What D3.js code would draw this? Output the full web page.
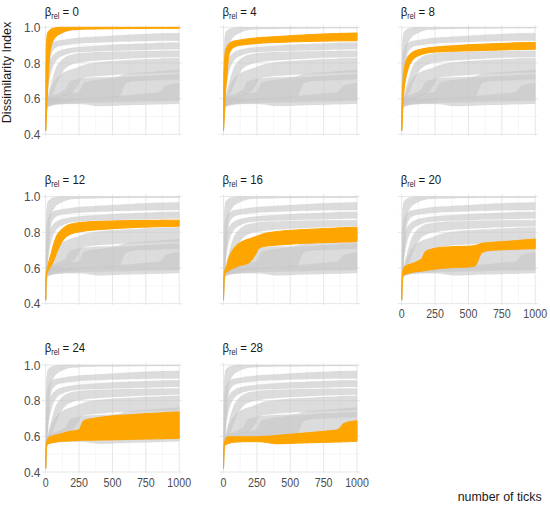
<!DOCTYPE html>
<html>
<head>
<meta charset="utf-8">
<script src="https://cdn.jsdelivr.net/npm/d3@7"></script>
<style>
  html, body { margin: 0; padding: 0; background: #fff; }
  svg { display: block; font-family: "Liberation Sans", Arial, sans-serif; }
</style>
</head>
<body>
<svg id="chart" width="550" height="506"></svg>
<script>
// ---- data ----
const betas = [0, 4, 8, 12, 16, 20, 24, 28];
const ticks = [0, 2, 5, 10, 15, 25, 40, 60, 80, 100, 125, 150, 175, 200, 250, 260, 280, 300, 350, 400, 500, 550, 600, 650, 700, 800, 850, 870, 900, 1000];

const lower0  = [0.42,0.45,0.50,0.58,0.66,0.80,0.89,0.93,0.95,0.96,0.97,0.978,0.983,0.986,0.988,0.989,0.989,0.990,0.990,0.991,0.992,0.992,0.993,0.993,0.993,0.994,0.994,0.994,0.994,0.994];
const upper0  = [0.42,0.75,0.90,0.95,0.97,0.98,0.99,0.995,0.998,1.0,1.0,1.0,1.0,1.0,1.0,1.0,1.0,1.0,1.0,1.0,1.0,1.0,1.0,1.0,1.0,1.0,1.0,1.0,1.0,1.0];
const lower4  = [0.42,0.44,0.48,0.55,0.63,0.72,0.84,0.875,0.888,0.895,0.899,0.902,0.904,0.906,0.909,0.91,0.911,0.912,0.914,0.915,0.918,0.919,0.92,0.921,0.922,0.923,0.924,0.924,0.924,0.925];
const upper4  = [0.42,0.70,0.78,0.84,0.87,0.89,0.908,0.918,0.923,0.926,0.929,0.932,0.935,0.937,0.941,0.942,0.943,0.944,0.946,0.948,0.953,0.955,0.957,0.959,0.961,0.964,0.965,0.966,0.966,0.968];
const lower8  = [0.42,0.44,0.50,0.58,0.63,0.69,0.745,0.79,0.815,0.83,0.84,0.848,0.853,0.857,0.861,0.862,0.862,0.863,0.865,0.866,0.868,0.869,0.870,0.871,0.872,0.874,0.875,0.875,0.876,0.877];
const upper8  = [0.42,0.55,0.62,0.70,0.74,0.79,0.825,0.848,0.86,0.868,0.874,0.878,0.882,0.885,0.889,0.89,0.891,0.892,0.895,0.897,0.902,0.904,0.905,0.907,0.908,0.911,0.913,0.913,0.914,0.915];
const lower12 = [0.42,0.50,0.55,0.57,0.58,0.592,0.61,0.64,0.68,0.715,0.75,0.772,0.785,0.793,0.802,0.803,0.805,0.808,0.812,0.815,0.82,0.822,0.824,0.826,0.828,0.83,0.831,0.832,0.832,0.834];
const upper12 = [0.42,0.53,0.57,0.595,0.61,0.64,0.68,0.735,0.778,0.80,0.82,0.834,0.843,0.848,0.854,0.855,0.856,0.857,0.86,0.861,0.863,0.864,0.865,0.866,0.866,0.867,0.867,0.868,0.868,0.868];
const lower16 = [0.42,0.48,0.54,0.565,0.572,0.577,0.585,0.593,0.60,0.607,0.613,0.618,0.623,0.635,0.69,0.705,0.715,0.72,0.724,0.728,0.733,0.736,0.738,0.739,0.741,0.743,0.744,0.745,0.745,0.748];
const upper16 = [0.42,0.50,0.56,0.585,0.595,0.615,0.655,0.69,0.712,0.728,0.742,0.752,0.759,0.765,0.778,0.781,0.787,0.792,0.799,0.804,0.811,0.813,0.815,0.817,0.819,0.822,0.824,0.825,0.826,0.828];
const lower20 = [0.42,0.48,0.53,0.553,0.558,0.563,0.568,0.572,0.575,0.578,0.58,0.582,0.585,0.588,0.593,0.594,0.596,0.598,0.60,0.603,0.605,0.612,0.685,0.697,0.700,0.703,0.704,0.705,0.706,0.708];
const upper20 = [0.42,0.50,0.56,0.59,0.60,0.61,0.615,0.62,0.625,0.63,0.64,0.652,0.69,0.70,0.71,0.712,0.714,0.716,0.718,0.72,0.722,0.726,0.738,0.742,0.745,0.75,0.753,0.754,0.756,0.762];
const lower24 = [0.42,0.48,0.53,0.55,0.555,0.56,0.563,0.566,0.568,0.57,0.572,0.573,0.574,0.575,0.577,0.577,0.578,0.578,0.578,0.579,0.58,0.581,0.582,0.583,0.584,0.585,0.586,0.586,0.587,0.588];
const upper24 = [0.42,0.50,0.555,0.575,0.585,0.595,0.60,0.605,0.608,0.612,0.617,0.622,0.627,0.63,0.637,0.65,0.685,0.692,0.70,0.706,0.715,0.718,0.72,0.722,0.725,0.729,0.731,0.732,0.734,0.737];
const lower28 = [0.42,0.48,0.53,0.548,0.552,0.556,0.56,0.565,0.567,0.568,0.569,0.57,0.57,0.57,0.57,0.57,0.569,0.568,0.562,0.558,0.56,0.562,0.563,0.564,0.565,0.567,0.568,0.568,0.569,0.572];
const upper28 = [0.42,0.50,0.555,0.575,0.585,0.595,0.598,0.598,0.598,0.598,0.598,0.597,0.597,0.597,0.598,0.598,0.599,0.60,0.602,0.605,0.612,0.615,0.618,0.621,0.625,0.632,0.636,0.645,0.672,0.688];

const lowers = [lower0, lower4, lower8, lower12, lower16, lower20, lower24, lower28];
const uppers = [upper0, upper4, upper8, upper12, upper16, upper20, upper24, upper28];

const xMajor = [0, 250, 500, 750, 1000];
const xMinor = [125, 375, 625, 875];
const yMajor = [0.4, 0.6, 0.8, 1.0];
const yMinor = [0.5, 0.7, 0.9];

// ---- layout ----
const colX0 = [45.7, 223.5, 401.7];
const plotW = 133.5;
const rowTop = [27.3, 196.6, 365.0];
const plotH = 107;
const titleBase = [16, 184, 352];
const FONT = '"Liberation Sans", Arial, sans-serif';

const svg = d3.select("#chart");

const series = betas.map((b, i) => ticks.map((t, j) => ({ t, lo: lowers[i][j], hi: uppers[i][j] })));

betas.forEach((beta, k) => {
  const row = Math.floor(k / 3), col = k % 3;
  const x = d3.scaleLinear().domain([0, 1000]).range([colX0[col], colX0[col] + plotW]);
  const y = d3.scaleLinear().domain([0.4, 1.0]).range([rowTop[row] + plotH, rowTop[row]]);
  const g = svg.append("g");

  const px0 = x(-30), px1 = x(1022);
  const py0 = y(0.393), py1 = y(1.013);

  // gridlines
  g.selectAll(".gxmin").data(xMinor).join("line")
    .attr("x1", d => x(d)).attr("x2", d => x(d)).attr("y1", py0).attr("y2", py1)
    .attr("stroke", "#f0f0f0").attr("stroke-width", 0.6);
  g.selectAll(".gymin").data(yMinor).join("line")
    .attr("x1", px0).attr("x2", px1).attr("y1", d => y(d)).attr("y2", d => y(d))
    .attr("stroke", "#f0f0f0").attr("stroke-width", 0.6);
  g.selectAll(".gxmaj").data(xMajor).join("line")
    .attr("x1", d => x(d)).attr("x2", d => x(d)).attr("y1", py0).attr("y2", py1)
    .attr("stroke", "#e4e4e4").attr("stroke-width", 0.9);
  g.selectAll(".gymaj").data(yMajor).join("line")
    .attr("x1", px0).attr("x2", px1).attr("y1", d => y(d)).attr("y2", d => y(d))
    .attr("stroke", "#e4e4e4").attr("stroke-width", 0.9);

  const area = d3.area()
    .x(d => x(d.t)).y0(d => y(d.lo)).y1(d => y(d.hi))
    .curve(d3.curveMonotoneX);

  // grey ribbons for all runs
  series.forEach(s => {
    g.append("path").attr("d", area(s))
      .attr("fill", "#c6c6c6").attr("fill-opacity", 0.62)
      .attr("stroke", "#c6c6c6").attr("stroke-opacity", 0.3).attr("stroke-width", 0.5);
  });
  // highlighted ribbon
  g.append("path").attr("d", area(series[k]))
    .attr("fill", "#FFA500").attr("stroke", "#FFA500").attr("stroke-width", 1);

  // title
  const tg = svg.append("g").attr("transform", `translate(${colX0[col] - 1},${titleBase[row]}) scale(0.85,1)`);
  const tt = tg.append("text").attr("x", 0).attr("y", 0)
    .attr("font-family", FONT).attr("fill", "#1a1a1a").attr("font-size", 13.5);
  tt.append("tspan").text("β");
  tt.append("tspan").attr("font-size", 8.5).attr("dy", 2.5).text("rel");
  tt.append("tspan").attr("dy", -2.5).text(" = " + beta);

  // y labels (first column)
  if (col === 0) {
    yMajor.forEach(v => {
      svg.append("g").attr("transform", `translate(40.5,${y(v) + 4.6}) scale(0.92,1)`)
        .append("text").attr("text-anchor", "end")
        .attr("font-family", FONT).attr("font-size", 13).attr("fill", "#4d4d4d")
        .text(d3.format(".1f")(v));
    });
  }
  // x labels (bottom of each column)
  if (row === 2 || k === 5) {
    xMajor.forEach(v => {
      svg.append("g").attr("transform", `translate(${x(v)},${rowTop[row] + plotH + 14.5}) scale(0.82,1)`)
        .append("text").attr("text-anchor", "middle")
        .attr("font-family", FONT).attr("font-size", 13).attr("fill", "#4d4d4d")
        .text(v);
    });
  }
});

// axis titles
svg.append("text")
  .attr("transform", "translate(11.2,72.5) rotate(-90)")
  .attr("text-anchor", "middle")
  .attr("font-family", FONT).attr("font-size", 12.6).attr("fill", "#1a1a1a")
  .text("Dissimilarity Index");

svg.append("text")
  .attr("x", 541.7).attr("y", 501)
  .attr("text-anchor", "end")
  .attr("font-family", FONT).attr("font-size", 12.4).attr("fill", "#1a1a1a")
  .text("number of ticks");
</script>
</body>
</html>
